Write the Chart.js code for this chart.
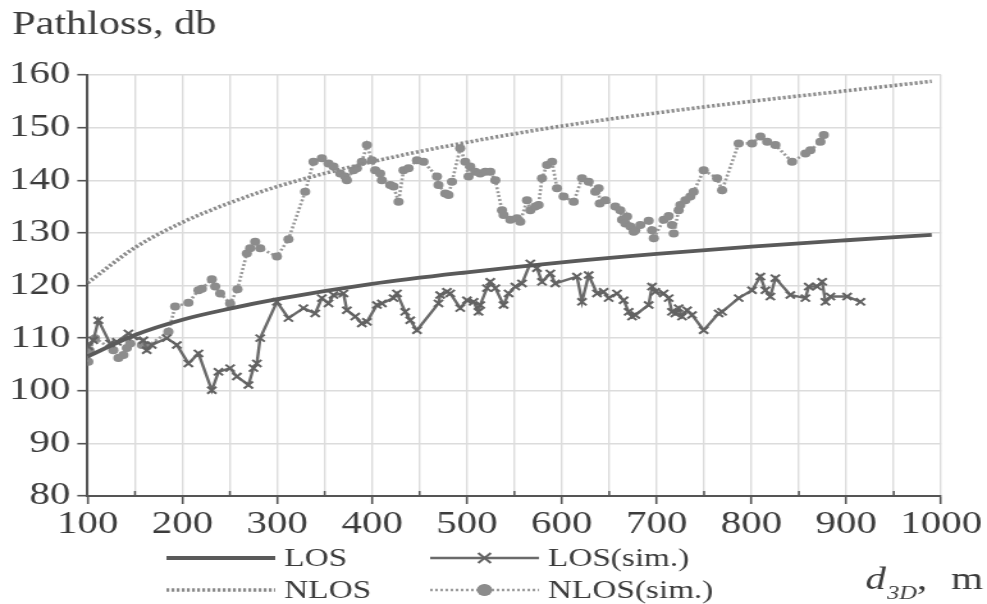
<!DOCTYPE html>
<html>
<head>
<meta charset="utf-8">
<script src="https://cdn.jsdelivr.net/npm/chart.js@4.4.1/dist/chart.umd.min.js"></script>
<style>
  html, body { margin: 0; padding: 0; background: #fff; overflow: hidden; }
  /* the drawing surface is widened horizontally for the wide serif look */
  #plot { display: block; width: 987px !important; height: 604px !important; }
</style>
</head>
<body>
<canvas id="plot" width="771" height="604"></canvas>
<script>
// Axis ranges and tick labels
const distTicks = [100, 200, 300, 400, 500, 600, 700, 800, 900, 1000];
const lossTicks = [80, 90, 100, 110, 120, 130, 140, 150, 160];

// Model curves: distance (m) and path loss (dB)
const modelDist = [100, 150, 200, 250, 300, 400, 500, 600, 700, 800, 900, 990];
const losModel  = [106.5, 110.6, 113.5, 115.6, 117.4, 120.3, 122.5, 124.4, 126.0, 127.4, 128.6, 129.6];
const nlosModel = [120.5, 127.2, 132.0, 135.7, 138.8, 143.5, 147.2, 150.3, 152.8, 155.0, 157.0, 158.8];

// Simulated LOS points [distance, path loss]
const losSim = [
  [100.8,108.4],[106.1,109.6],[111.4,113.4],[123.7,109.0],[130.8,109.3],[143.1,110.9],[148.3,110.3],
  [158.9,109.6],[162.4,107.7],[167.7,108.7],[183.5,110.0],[194.1,108.7],[206.3,105.2],[216.9,107.1],
  [231.0,100.1],[238.0,103.6],[250.3,104.3],[257.4,102.7],[269.6,101.1],[274.9,104.3],[278.5,105.2],
  [282.0,110.0],[299.6,116.9],[311.8,113.8],[327.6,115.7],[340.0,114.7],[347.0,117.6],[354.0,116.6],
  [359.3,118.2],[369.8,118.5],[373.4,115.3],[382.2,114.1],[389.2,112.8],[394.5,113.1],[405.1,116.3],
  [410.3,116.6],[422.6,117.6],[426.2,118.5],[434.9,115.0],[440.2,113.4],[447.3,111.5],[470.0,116.6],
  [471.8,118.2],[478.9,118.8],[482.4,118.5],[492.9,115.7],[500.0,117.2],[507.0,116.9],[512.2,115.0],
  [514.0,116.3],[521.1,119.5],[524.6,120.7],[529.9,119.5],[538.6,116.3],[543.9,118.5],[551.0,119.8],
  [558.0,120.4],[566.8,124.2],[573.8,123.3],[579.1,120.7],[587.9,122.3],[593.1,120.4],[616.0,121.7],
  [621.3,116.9],[628.3,122.0],[637.1,118.5],[644.1,118.8],[649.4,117.6],[658.2,118.5],[665.2,117.2],
  [670.5,115.0],[674.1,114.1],[677.5,114.4],[691.6,116.3],[695.1,119.8],[698.6,118.8],[707.4,118.5],
  [712.7,117.6],[716.2,115.0],[719.7,114.7],[723.2,115.7],[726.8,114.1],[732.1,115.3],[737.3,114.4],
  [749.6,111.5],[765.4,114.7],[769.0,115.0],[786.5,117.6],[800.6,119.1],[809.4,121.7],[814.7,119.1],
  [819.9,117.9],[825.2,121.4],[841.0,118.2],[856.9,117.6],[860.4,119.8],[869.2,119.8],[874.5,120.7],
  [878.0,116.9],[883.2,117.9],[900.8,117.9],[914.9,116.9]
];

// Simulated NLOS points [distance, path loss]
const nlosSim = [
  [100.8,105.5],[101.9,107.7],[107.9,110.0],[127.2,107.7],[132.5,106.2],[137.8,106.8],[141.4,108.1],
  [144.9,109.0],[157.3,108.7],[162.6,108.4],[185.2,111.2],[192.3,116.0],[206.3,116.7],[216.9,119.1],
  [220.5,119.4],[231.0,121.2],[234.5,119.8],[239.8,118.5],[250.3,116.6],[258.0,119.3],[267.9,126.1],
  [271.4,127.1],[276.7,128.3],[282.0,127.1],[299.6,125.5],[311.8,128.8],[329.4,137.8],[338.2,143.5],
  [347.0,144.2],[354.0,143.2],[359.3,142.6],[366.4,141.3],[371.6,140.7],[373.4,140.0],[380.4,141.9],
  [384.0,142.3],[389.2,143.5],[394.5,146.7],[399.8,143.8],[403.3,141.9],[408.5,141.3],[410.3,140.0],
  [419.1,139.1],[422.6,138.8],[427.9,135.9],[433.1,141.9],[438.4,142.3],[447.3,143.8],[454.2,143.5],
  [468.4,140.7],[470.0,139.1],[477.1,137.5],[480.6,137.2],[484.2,139.7],[492.9,146.1],[498.2,143.5],
  [501.7,140.7],[503.5,142.6],[508.8,141.6],[514.0,141.3],[519.3,141.6],[524.6,141.6],[529.9,140.0],
  [536.9,134.3],[538.6,133.4],[545.7,132.5],[552.7,132.8],[556.2,132.1],[563.3,136.2],[566.8,134.3],
  [572.0,135.0],[575.5,135.3],[579.1,140.4],[584.4,142.9],[589.7,143.5],[594.9,138.5],[601.9,136.9],
  [612.5,135.9],[621.3,140.4],[628.3,139.7],[635.3,137.8],[638.8,138.5],[640.0,135.6],[645.9,136.2],
  [656.4,135.0],[661.7,134.3],[663.5,132.5],[667.0,131.8],[668.8,133.1],[672.3,131.2],[675.8,130.2],
  [677.5,130.5],[682.8,131.5],[691.6,132.3],[695.1,130.5],[697.0,129.0],[707.4,132.5],[712.7,133.2],
  [716.2,131.5],[718.0,129.9],[723.2,134.3],[725.0,135.3],[730.3,136.2],[735.5,136.9],[739.0,137.8],
  [749.6,141.9],[763.7,140.4],[769.0,138.1],[786.5,147.0],[800.6,147.0],[809.4,148.3],[816.5,147.3],
  [825.2,146.7],[842.8,143.5],[856.9,145.1],[862.1,145.7],[872.7,147.3],[876.2,148.6]
];

const seriesNames = ['LOS', 'LOS(sim.)', 'NLOS', 'NLOS(sim.)'];
const yTitle = 'Pathloss, db';

const SERIF = "'Liberation Serif', 'Times New Roman', serif";
const TEXT = '#3c3c3c';
const AXIS = '#555555';
const GRID = '#dcdcdc';

const toPoints = (xs, ys) => xs.map((x, i) => ({ x, y: ys[i] }));
const pairPoints = arr => arr.map(([x, y]) => ({ x, y }));

// Legend laid out in two rows under the axis
const cornerLegend = {
  id: 'cornerLegend',
  afterDraw(chart) {
    const ctx = chart.ctx;
    const slots = [
      { ds: 0, x: 130, y: 558 }, { ds: 1, x: 336, y: 558 },
      { ds: 2, x: 130, y: 590 }, { ds: 3, x: 336, y: 590 }
    ];
    const sampleLen = 85;
    ctx.save();
    for (const s of slots) {
      const d = chart.data.datasets[s.ds];
      ctx.save();
      ctx.strokeStyle = d.borderColor;
      ctx.lineWidth = d.borderWidth;
      ctx.setLineDash(d.borderDash || []);
      ctx.beginPath();
      ctx.moveTo(s.x, s.y);
      ctx.lineTo(s.x + sampleLen, s.y);
      ctx.stroke();
      ctx.restore();
      if (d.pointRadius > 0) {
        ctx.save();
        ctx.fillStyle = d.pointBackgroundColor;
        ctx.strokeStyle = d.pointBorderColor;
        ctx.lineWidth = d.pointBorderWidth;
        Chart.helpers.drawPoint(ctx, {
          pointStyle: d.pointStyle,
          radius: d.pointRadius + 2,
          borderWidth: d.pointBorderWidth
        }, s.x + sampleLen / 2, s.y);
        if (d.pointStyle === 'circle') {
          ctx.beginPath();
          ctx.arc(s.x + sampleLen / 2, s.y, d.pointRadius + 1.5, 0, Math.PI * 2);
          ctx.fill();
        }
        ctx.restore();
      }
      ctx.fillStyle = TEXT;
      ctx.font = "26px " + SERIF;
      ctx.textBaseline = 'middle';
      ctx.textAlign = 'left';
      ctx.fillText(d.label, s.x + sampleLen + 7, s.y + 1);
    }
    ctx.restore();
  }
};

// Distance axis title with subscript, and small inner ticks at the half steps
const axisExtras = {
  id: 'axisExtras',
  afterDraw(chart) {
    const ctx = chart.ctx;
    const xs = chart.scales.x;
    const bottom = chart.chartArea.bottom;
    ctx.save();
    ctx.strokeStyle = AXIS;
    ctx.lineWidth = 1.5;
    for (let v = 150; v < 1000; v += 100) {
      const px = xs.getPixelForValue(v);
      ctx.beginPath();
      ctx.moveTo(px, bottom - 5);
      ctx.lineTo(px, bottom);
      ctx.stroke();
    }
    ctx.fillStyle = TEXT;
    ctx.textBaseline = 'alphabetic';
    ctx.textAlign = 'left';
    let x = 676;
    const base = 589;
    ctx.font = "italic 32px " + SERIF;
    ctx.fillText('d', x, base);
    x += ctx.measureText('d').width + 1;
    ctx.font = "italic 19px " + SERIF;
    ctx.fillText('3D', x, base + 10);
    x += ctx.measureText('3D').width;
    ctx.font = "32px " + SERIF;
    ctx.fillText(',', x, base);
    ctx.fillText('m', 743, base);
    ctx.restore();
  }
};

new Chart(document.getElementById('plot'), {
  type: 'line',
  data: {
    datasets: [
      {
        label: seriesNames[0],
        data: toPoints(modelDist, losModel),
        borderColor: '#5a5a5a', borderWidth: 3.8,
        pointRadius: 0, cubicInterpolationMode: 'monotone', order: 0
      },
      {
        label: seriesNames[1],
        data: pairPoints(losSim),
        borderColor: '#6a6a6a', borderWidth: 2.4,
        pointStyle: 'crossRot', pointRadius: 5, pointBorderWidth: 2,
        pointBorderColor: '#626262', pointBackgroundColor: '#626262',
        tension: 0, order: 1
      },
      {
        label: seriesNames[2],
        data: toPoints(modelDist, nlosModel),
        borderColor: '#8a8a8a', borderWidth: 3.6, borderDash: [2.2, 1.8],
        pointRadius: 0, cubicInterpolationMode: 'monotone', order: 2
      },
      {
        label: seriesNames[3],
        data: pairPoints(nlosSim),
        borderColor: '#9a9a9a', borderWidth: 2.6, borderDash: [2, 2],
        pointStyle: 'circle', pointRadius: 4, pointBorderWidth: 0,
        pointBorderColor: '#8c8c8c', pointBackgroundColor: '#8c8c8c',
        tension: 0, order: 3
      }
    ]
  },
  options: {
    responsive: false,
    animation: false,
    devicePixelRatio: 1,
    events: [],
    layout: { padding: { left: 9.4, right: 35.8, top: 0, bottom: 0 } },
    plugins: {
      legend: { display: false },
      tooltip: { enabled: false },
      title: {
        display: true,
        text: yTitle,
        align: 'start',
        color: TEXT,
        font: { family: SERIF, size: 33, weight: 'normal', lineHeight: 1.2 },
        padding: { top: 5.8, bottom: 29.6 }
      }
    },
    scales: {
      x: {
        type: 'linear',
        min: distTicks[0],
        max: distTicks[distTicks.length - 1],
        afterFit(scale) { scale.height = 108; },
        border: { display: true, color: AXIS, width: 2 },
        grid: {
          color: GRID, lineWidth: 1.4,
          drawTicks: true, tickLength: 8,
          tickColor: c => (c.tick && distTicks.includes(c.tick.value)) ? AXIS : 'rgba(0,0,0,0)',
          tickWidth: 1.6
        },
        ticks: {
          stepSize: 50,
          autoSkip: false,
          maxRotation: 0,
          padding: 1,
          color: TEXT,
          font: { family: SERIF, size: 32, lineHeight: 1.2 },
          callback: v => distTicks.includes(v) ? String(v) : ''
        }
      },
      y: {
        type: 'linear',
        min: lossTicks[0],
        max: lossTicks[lossTicks.length - 1],
        afterFit(scale) { scale.width = 59; },
        border: { display: true, color: AXIS, width: 2 },
        grid: {
          color: GRID, lineWidth: 1.4,
          drawTicks: true, tickLength: 8,
          tickColor: AXIS, tickWidth: 1.6
        },
        ticks: {
          stepSize: 10,
          padding: 5.5,
          color: TEXT,
          font: { family: SERIF, size: 32, lineHeight: 1.2 },
          callback: v => lossTicks.includes(v) ? String(v) : ''
        }
      }
    }
  },
  plugins: [cornerLegend, axisExtras]
});
</script>
</body>
</html>
